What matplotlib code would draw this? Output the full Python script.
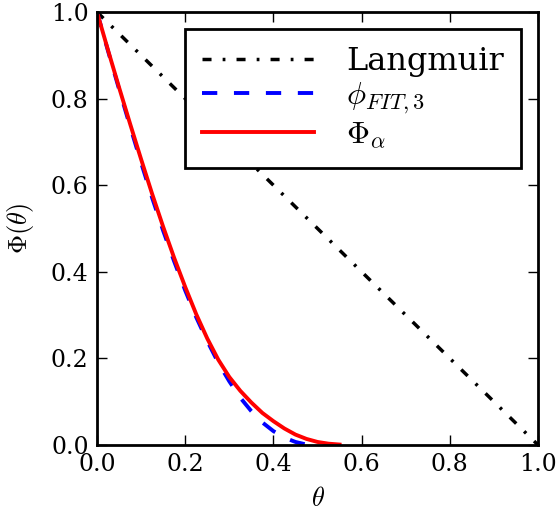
import numpy as np
import matplotlib
matplotlib.use("Agg")
import matplotlib.pyplot as plt

# coverage values and the three curves
theta_lang = [0.0, 1.0]
phi_lang = [1.0, 0.0]

theta_fit = [0.0, 0.025, 0.05, 0.075, 0.1, 0.125, 0.15, 0.175, 0.2, 0.225,
             0.25, 0.275, 0.3, 0.325, 0.35, 0.375, 0.4, 0.425, 0.45, 0.475]
phi_fit = [1.0, 0.91, 0.822, 0.736, 0.652, 0.571, 0.495, 0.424, 0.357, 0.295,
           0.24, 0.19, 0.147, 0.109, 0.078, 0.052, 0.032, 0.017, 0.007, 0.001]

theta_alpha = [0.0, 0.025, 0.05, 0.075, 0.1, 0.125, 0.15, 0.175, 0.2, 0.225,
               0.25, 0.275, 0.3, 0.325, 0.35, 0.375, 0.4, 0.425, 0.45, 0.475,
               0.5, 0.525, 0.55]
phi_alpha = [1.0, 0.912, 0.826, 0.742, 0.66, 0.58, 0.504, 0.432, 0.365, 0.302,
             0.246, 0.197, 0.157, 0.125, 0.098, 0.074, 0.055, 0.038, 0.024, 0.014,
             0.007, 0.003, 0.001]

labels = ["Langmuir", r"$\phi_{FIT,3}$", r"$\Phi_{\alpha}$"]

plt.rcParams["font.family"] = "DejaVu Serif"
plt.rcParams["mathtext.fontset"] = "cm"
plt.rcParams["lines.scale_dashes"] = False
plt.rcParams["xtick.direction"] = "in"
plt.rcParams["ytick.direction"] = "in"

fig = plt.figure(figsize=(5.59, 5.17), dpi=100)
ax = fig.add_axes([0.1735, 0.1393, 0.789, 0.8375])

ax.plot(theta_lang, phi_lang, color="black", lw=2.5,
        linestyle=(0, (6.5, 8, 2, 8)), label=labels[0])
ax.plot(theta_fit, phi_fit, color="blue", lw=2.8,
        linestyle=(0, (11, 12)), label=labels[1])
ax.plot(theta_alpha, phi_alpha, color="red", lw=2.8, label=labels[2])

ax.set_xlim(0, 1)
ax.set_ylim(0, 1)
ax.set_xticks(np.arange(0, 1.01, 0.2))
ax.set_yticks(np.arange(0, 1.01, 0.2))
ax.tick_params(labelsize=17, length=7, width=1, top=True, right=True, pad=6)
for s in ax.spines.values():
    s.set_linewidth(2)

ax.set_xlabel(r"$\theta$", fontsize=19, labelpad=7)
ax.set_ylabel(r"$\Phi(\theta)$", fontsize=19, labelpad=11)

leg = ax.legend(loc="upper right", fontsize=23, fancybox=False, framealpha=1,
                edgecolor="black", handlelength=3.5, handletextpad=1.0,
                labelspacing=0.1, borderpad=0.55, borderaxespad=0.52)
leg.get_frame().set_linewidth(2)

fig.savefig("out.png", dpi=100)
